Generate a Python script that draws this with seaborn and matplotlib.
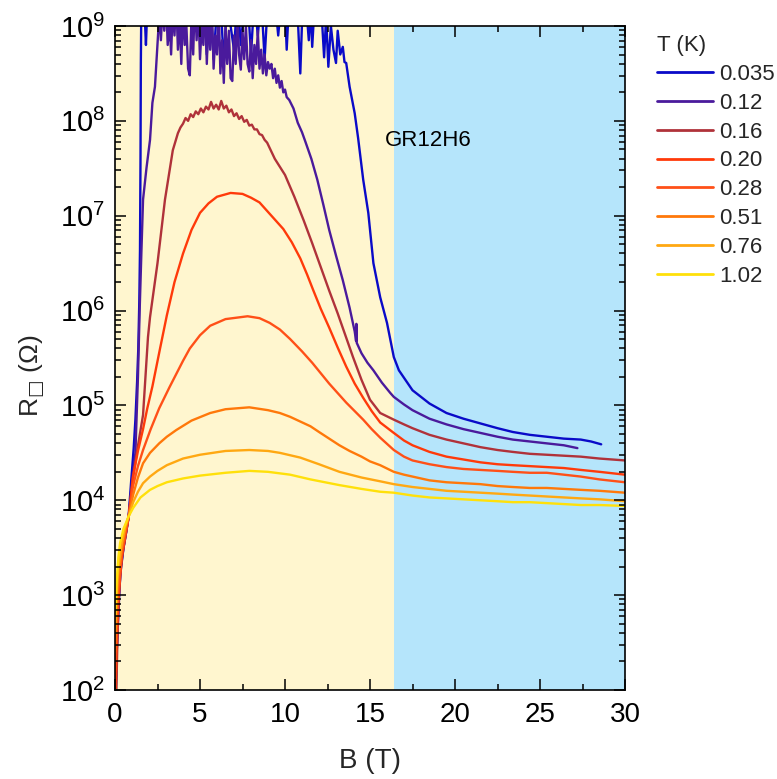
import numpy as np
import pandas as pd
import seaborn as sns
import matplotlib
matplotlib.use("Agg")
import matplotlib.pyplot as plt
from matplotlib.ticker import MultipleLocator, LogLocator, NullFormatter, FixedLocator
from matplotlib.lines import Line2D

sns.set_theme(style="ticks")
plt.rcParams["font.family"] = ["Liberation Sans", "DejaVu Sans"]
plt.rcParams["mathtext.fontset"] = "custom"
plt.rcParams["mathtext.rm"] = "Liberation Sans"
plt.rcParams["mathtext.it"] = "Liberation Sans:italic"
plt.rcParams["mathtext.bf"] = "Liberation Sans:bold"
plt.rcParams["mathtext.sf"] = "DejaVu Sans"
plt.rcParams["mathtext.fallback"] = "stixsans"

# ---- data: field B (T) and log10 of sheet resistance (Ohm) per temperature ----
temps = ["0.035", "0.12", "0.16", "0.20", "0.28", "0.51", "0.76", "1.02"]
colors = ["#0a0ac8", "#4a1a9c", "#b0323a", "#ff3a0a", "#ff5018", "#ff780a", "#ffa812", "#ffe00a"]

B_035 = [0.0, 0.05, 0.1, 0.2, 0.35, 0.5, 0.65, 0.8, 0.95, 1.1, 1.2, 1.3, 1.37, 1.43, 1.47, 1.5, 1.52,
         1.55, 1.65, 1.75, 1.82, 1.9, 2.0, 2.2, 2.4, 2.6, 2.8, 3.0, 3.2, 3.4, 3.6, 3.8, 4.0, 4.2, 4.4,
         4.6, 4.8, 5.0, 5.2, 5.4, 5.6, 5.8, 6.0, 6.2, 6.4, 6.6, 6.8, 7.0, 7.2, 7.4, 7.6, 7.8, 8.0,
         8.2, 8.4, 8.6, 8.8, 9.0, 9.2, 9.4, 9.6, 9.8, 10.0, 10.1, 10.25, 10.5, 10.7, 10.9, 11.05,
         11.25, 11.4, 11.5, 11.6, 11.75, 11.95, 12.1, 12.3, 12.42, 12.55, 12.7, 12.85, 13.0, 13.1,
         13.25, 13.4, 13.5, 13.6, 13.8, 14.1, 14.3, 14.6, 14.9, 15.2, 15.6, 16.0, 16.4, 16.7, 17.5,
         18.5, 19.5, 20.5, 21.5, 22.5, 23.4, 24.4, 25.4, 26.4, 27.4, 28.0, 28.6]
logR_035 = [1.6, 2.0, 2.4, 2.9, 3.3, 3.5, 3.66, 3.83, 4.2, 4.55, 4.85, 5.25, 5.6, 6.1, 6.64, 7.6, 8.6,
            9.25, 9.3, 9.1, 8.80, 9.2, 9.3, 9.15, 9.3, 9.05, 9.3, 9.2, 8.85, 9.3, 9.1, 9.3, 8.9, 9.3, 9.2,
            8.95, 9.3, 9.1, 9.3, 8.7, 9.3, 8.65, 9.2, 9.3, 8.6, 9.3, 9.0, 8.75, 9.3, 8.8, 9.2, 9.3, 8.7,
            9.3, 8.9, 9.3, 8.65, 9.3, 9.1, 9.3, 8.9, 9.3, 9.2, 8.75, 9.3, 9.2, 9.3, 8.50, 9.3,
            9.2, 8.85, 9.2, 8.78, 9.25, 9.1, 9.3, 8.67, 9.1, 8.57, 9.0, 8.75, 8.61, 8.95,
            8.70, 8.78, 8.62, 8.61, 8.36, 8.08, 7.82, 7.38, 7.03, 6.50, 6.14, 5.87, 5.51, 5.37, 5.16,
            5.02, 4.92, 4.86, 4.81, 4.76, 4.72, 4.69, 4.67, 4.65, 4.64, 4.62, 4.59]

B_12 = [0.0, 0.1, 0.3, 0.5, 0.8, 1.0, 1.2, 1.35, 1.45, 1.55, 1.65, 1.85, 2.06, 2.2, 2.35, 2.47, 2.55,
        2.6, 2.7, 2.8, 2.9, 3.0, 3.1, 3.2, 3.3, 3.4, 3.5, 3.6, 3.7, 3.8, 3.9, 4.0, 4.1, 4.2, 4.3, 4.4,
        4.5, 4.6, 4.7, 4.8, 4.9, 5.0, 5.1, 5.2, 5.3, 5.4, 5.5, 5.6, 5.7, 5.8, 5.9, 6.0, 6.1, 6.2, 6.3,
        6.4, 6.5, 6.6, 6.7, 6.8, 6.9, 7.0, 7.1, 7.2, 7.3, 7.4, 7.5, 7.6, 7.7, 7.8, 7.9, 8.0, 8.1, 8.2,
        8.3, 8.4, 8.5, 8.6, 8.7, 8.8, 8.9, 9.0, 9.1, 9.2, 9.3, 9.4, 9.5, 9.6, 9.7, 9.8, 9.9, 10.0,
        10.1, 10.25, 10.5, 10.75, 11.0, 11.2, 11.55, 11.9, 12.25, 12.6, 13.0, 13.4, 13.8, 14.1, 14.18,
        14.2, 14.22, 14.5, 14.85, 15.2, 15.7, 16.2, 16.4, 17.0, 17.5, 18.5, 19.5, 20.5, 21.5, 22.5,
        23.4, 24.4, 25.4, 26.4, 27.2]
logR_12 = [1.6, 2.4, 3.2, 3.5, 3.82, 4.2, 4.5, 5.3, 6.0, 6.6, 7.17, 7.5, 7.8, 8.19, 8.36, 8.72, 8.96,
           9.2, 8.85, 9.2, 8.95, 9.3, 8.8, 9.1, 8.7, 9.2, 8.9, 9.3, 8.75, 9.1, 8.6, 9.2, 8.8, 9.0, 8.55, 8.48,
           9.1, 8.7, 9.3, 8.85, 9.2, 8.65, 9.0, 8.8, 9.3, 8.6, 9.1, 8.75, 9.2, 8.55, 8.9, 8.7, 9.2, 8.5, 8.85,
           8.40, 9.0, 8.6, 8.95, 8.45, 8.42, 8.9, 8.6, 9.1, 8.7, 8.54, 8.95, 8.65, 9.0, 8.6, 8.52, 8.85, 8.45, 8.8,
           8.6, 8.95, 8.55, 8.75, 8.5, 8.7, 8.48, 8.62, 8.55, 8.6, 8.45, 8.55, 8.4, 8.48, 8.35, 8.42, 8.30, 8.33,
           8.25, 8.22, 8.13, 7.98, 7.88, 7.78, 7.60, 7.38, 7.12, 6.85, 6.58, 6.32, 6.03, 5.78, 5.68,
           5.86, 5.66, 5.55, 5.45, 5.37, 5.24, 5.13, 5.09, 5.01, 4.95, 4.86, 4.80, 4.75, 4.71, 4.67,
           4.64, 4.62, 4.60, 4.58, 4.55]

B_16 = [0.0, 0.08, 0.15, 0.2, 0.3, 0.45, 0.6, 0.8, 1.07, 1.3, 1.65, 1.94, 2.06, 2.5, 2.94, 3.4,
        3.70, 3.85, 4.00, 4.15, 4.30, 4.45, 4.60, 4.75, 4.90, 5.05, 5.20, 5.35, 5.50, 5.65, 5.80, 5.95,
        6.10, 6.25, 6.40, 6.55, 6.70, 6.85, 7.00, 7.15, 7.30, 7.45, 7.60, 7.75, 7.90, 8.05, 8.20, 8.35,
        8.50, 8.65, 8.80, 8.95, 9.4, 10.0, 10.55, 11.1, 11.6, 12.1, 12.6, 13.1, 13.55, 14.0, 14.5, 15.0,
        15.6, 16.4, 17.0, 17.5, 18.5, 19.5, 20.5, 21.5, 22.5, 23.4, 24.4, 25.4, 26.4, 27.4, 28.5, 30.0]
logR_16 = [1.5, 2.0, 2.6, 2.9, 3.25, 3.45, 3.6, 3.82, 4.25, 4.52, 4.9, 5.72, 5.93, 6.5, 7.17, 7.69,
           7.87, 7.93, 7.97, 8.03, 8.00, 8.07, 8.04, 8.10, 8.07, 8.13, 8.09, 8.15, 8.12, 8.20, 8.13, 8.17,
           8.12, 8.21, 8.13, 8.16, 8.09, 8.12, 8.05, 8.08, 8.02, 8.05, 7.99, 8.01, 7.95, 7.96, 7.91, 7.91,
           7.86, 7.85, 7.80, 7.77, 7.60, 7.43, 7.20, 6.95, 6.71, 6.46, 6.21, 5.97, 5.74, 5.51, 5.27, 5.06,
           4.92, 4.85, 4.80, 4.76, 4.69, 4.64, 4.60, 4.56, 4.53, 4.51, 4.49, 4.48, 4.47, 4.46, 4.44, 4.42]

B_20 = [0.0, 0.1, 0.2, 0.4, 0.6, 0.8, 1.06, 1.35, 1.65, 1.9, 2.2, 2.65, 3.05, 3.5, 4.0, 4.5, 5.0, 5.5,
        6.0, 6.8, 7.5, 8.0, 8.5, 9.2, 9.9, 10.4, 10.9, 11.3, 11.65, 12.1, 12.6, 13.1, 13.6, 14.1, 14.6,
        15.1, 15.6, 16.4, 17.0, 17.5, 18.5, 19.5, 20.5, 21.5, 22.5, 23.4, 24.4, 25.4, 26.4, 27.4, 28.5, 30.0]
logR_20 = [1.8, 2.5, 2.95, 3.4, 3.62, 3.82, 4.25, 4.52, 4.75, 4.97, 5.2, 5.6, 5.95, 6.3, 6.6, 6.85, 7.03, 7.13,
           7.2, 7.24, 7.23, 7.19, 7.14, 7.0, 6.86, 6.72, 6.55, 6.38, 6.22, 6.02, 5.82, 5.61, 5.41, 5.23, 5.08,
           4.94, 4.82, 4.71, 4.63, 4.58, 4.51, 4.46, 4.43, 4.40, 4.38, 4.37, 4.36, 4.35, 4.34, 4.32, 4.30, 4.27]

B_28 = [0.0, 0.1, 0.2, 0.4, 0.6, 0.8, 1.06, 1.35, 1.65, 2.1, 2.6, 3.2, 3.6, 4.0, 4.4, 5.0, 5.6, 6.5, 7.8,
        8.5, 9.1, 9.7, 10.3, 11.0, 11.6, 12.1, 12.6, 13.1, 13.6, 14.1, 14.6, 15.1, 15.6, 16.4, 17.0, 17.5,
        18.5, 19.5, 20.5, 21.5, 22.5, 23.4, 24.4, 25.4, 26.4, 27.4, 28.5, 30.0]
logR_28 = [2.2, 2.7, 3.05, 3.45, 3.65, 3.82, 4.15, 4.36, 4.53, 4.75, 4.97, 5.19, 5.33, 5.47, 5.60, 5.74, 5.84,
           5.91, 5.94, 5.92, 5.87, 5.80, 5.70, 5.57, 5.45, 5.34, 5.23, 5.13, 5.03, 4.94, 4.85, 4.75, 4.66,
           4.53, 4.46, 4.42, 4.38, 4.35, 4.33, 4.32, 4.31, 4.30, 4.29, 4.29, 4.27, 4.25, 4.22, 4.19]

B_51 = [0.0, 0.1, 0.2, 0.4, 0.6, 0.8, 1.07, 1.35, 1.65, 2.06, 2.6, 3.05, 3.6, 4.5, 5.6, 6.5, 7.9, 9.0,
        9.7, 10.3, 10.9, 11.5, 12.0, 12.6, 13.2, 13.8, 14.5, 15.0, 15.6, 16.4, 17.0, 17.5, 18.5, 19.5,
        20.5, 21.5, 22.5, 23.4, 24.4, 25.4, 26.4, 27.4, 28.5, 30.0]
logR_51 = [2.4, 2.9, 3.2, 3.5, 3.7, 3.83, 4.06, 4.24, 4.39, 4.50, 4.60, 4.67, 4.74, 4.84, 4.92, 4.96, 4.98,
           4.95, 4.92, 4.88, 4.83, 4.78, 4.72, 4.65, 4.58, 4.52, 4.46, 4.41, 4.37, 4.30, 4.27, 4.25, 4.21,
           4.19, 4.18, 4.17, 4.15, 4.14, 4.13, 4.13, 4.12, 4.11, 4.10, 4.08]

B_76 = [0.0, 0.1, 0.2, 0.4, 0.6, 0.8, 1.07, 1.35, 1.65, 2.06, 2.5, 3.05, 4.0, 5.0, 6.5, 7.9, 9.0, 9.7,
        10.9, 12.0, 13.2, 14.5, 15.6, 16.4, 17.5, 18.5, 19.5, 20.5, 21.5, 22.5, 23.4, 24.4, 25.4, 26.4,
        27.4, 28.5, 30.0]
logR_76 = [2.6, 3.05, 3.3, 3.55, 3.72, 3.83, 3.98, 4.09, 4.18, 4.25, 4.31, 4.37, 4.44, 4.48, 4.52, 4.53,
           4.52, 4.50, 4.45, 4.38, 4.30, 4.24, 4.20, 4.17, 4.14, 4.12, 4.10, 4.09, 4.08, 4.07, 4.06, 4.05,
           4.04, 4.03, 4.02, 4.01, 3.99]

B_102 = [0.0, 0.05, 0.1, 0.2, 0.3, 0.5, 0.8, 1.07, 1.5, 2.06, 2.5, 3.05, 4.0, 5.0, 6.5, 7.9, 9.0, 10.3,
         11.5, 13.2, 14.5, 15.6, 16.4, 17.5, 18.5, 19.5, 20.5, 21.5, 22.5, 23.4, 24.4, 25.4, 26.4, 27.4,
         28.5, 30.0]
logR_102 = [2.78, 2.95, 3.15, 3.40, 3.55, 3.70, 3.83, 3.92, 4.03, 4.11, 4.15, 4.19, 4.23, 4.26, 4.29, 4.31,
            4.30, 4.27, 4.22, 4.16, 4.12, 4.09, 4.08, 4.05, 4.03, 4.02, 4.01, 4.00, 3.99, 3.98, 3.98, 3.97,
            3.96, 3.95, 3.95, 3.94]

x_ticks = [0, 5, 10, 15, 20, 25, 30]
y_decades = [2, 3, 4, 5, 6, 7, 8, 9]
B_split = 16.4          # boundary between the two magnet regions
sample_label = "GR12H6"

# ---- long table for seaborn ----
series = [(B_035, logR_035), (B_12, logR_12), (B_16, logR_16), (B_20, logR_20),
          (B_28, logR_28), (B_51, logR_51), (B_76, logR_76), (B_102, logR_102)]
frames = []
for t, (b, lr) in zip(temps, series):
    frames.append(pd.DataFrame({"B": b, "R": 10.0 ** np.asarray(lr), "T": t}))
df = pd.concat(frames, ignore_index=True)
palette = dict(zip(temps, colors))

fig = plt.figure(figsize=(7.77, 7.79), dpi=100)
ax = fig.add_axes([115 / 777, 1 - 690 / 779, 510 / 777, 664 / 779])

ax.axvspan(0, B_split, color="#fff6cf", zorder=0, lw=0)
ax.axvspan(B_split, 30, color="#b5e5fb", zorder=0, lw=0)

sns.lineplot(data=df, x="B", y="R", hue="T", hue_order=temps, palette=palette,
             sort=False, estimator=None, units="T", legend=False, linewidth=1.7, ax=ax)

ax.set_yscale("log")
ax.set_xlim(0, 30)
ax.set_ylim(1e2, 1e9)
ax.set_xlabel("B (T)", fontsize=20, labelpad=14)
ax.set_ylabel("R$_{\\mathsf{□}}$ (Ω)", fontsize=19)
ax.yaxis.set_label_coords(-0.135, 0.474)

ax.xaxis.set_major_locator(FixedLocator(x_ticks))
ax.xaxis.set_minor_locator(MultipleLocator(2.5))
ax.yaxis.set_major_locator(FixedLocator([10.0 ** d for d in y_decades]))
ax.yaxis.set_minor_locator(LogLocator(base=10, subs=np.arange(2, 10), numticks=20))
ax.yaxis.set_minor_formatter(NullFormatter())
ax.set_yticklabels([rf"$10^{{{d}}}$" for d in y_decades])

ax.tick_params(which="both", direction="in", top=True, right=True, colors="black", width=1.1)
ax.tick_params(which="major", length=8)
ax.tick_params(axis="x", which="major", labelsize=20, pad=9)
ax.tick_params(axis="y", which="major", labelsize=21, pad=7)
ax.tick_params(which="minor", length=4.5)
for s in ax.spines.values():
    s.set_color("black")
    s.set_linewidth(1.2)
ax.set_axisbelow(False)

ax.text(15.85, 6.2e7, sample_label, fontsize=16, va="center", ha="left", color="black")

handles = [Line2D([], [], color=c, lw=2.0) for c in colors]
leg = ax.legend(handles, temps, title="T (K)", loc="upper left", bbox_to_anchor=(1.063, 0.986),
                frameon=False, fontsize=16, title_fontsize=16, handlelength=2.5,
                handletextpad=0.3, labelspacing=0.35, borderaxespad=0, borderpad=0)
leg._legend_box.align = "left"

fig.savefig("out.png", dpi=100)
